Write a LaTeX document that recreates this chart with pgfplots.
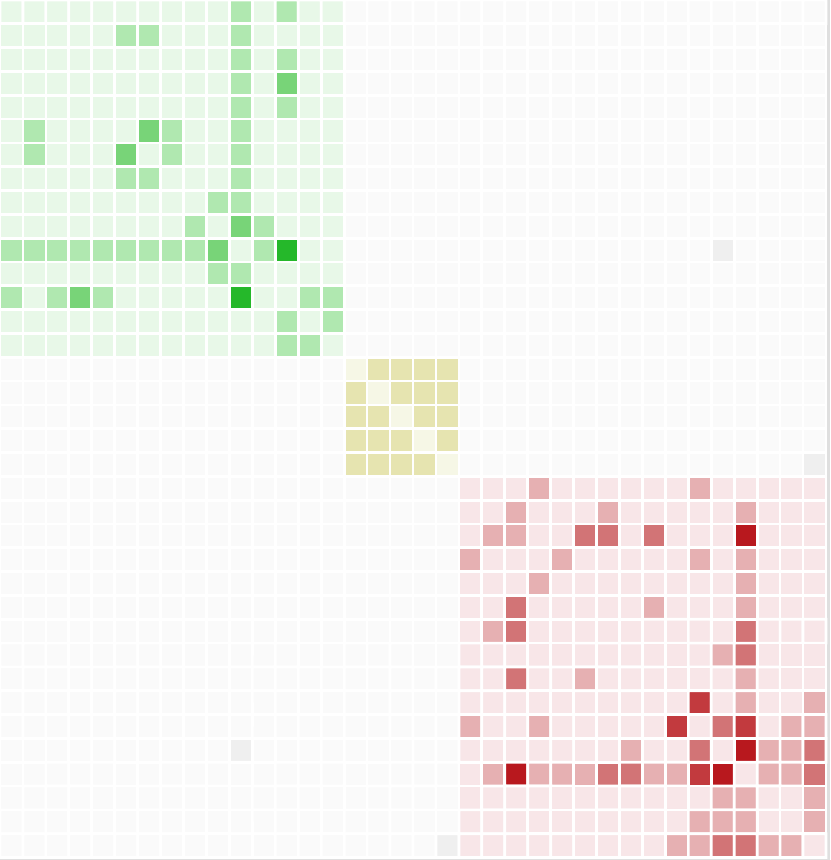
\documentclass[border=0pt]{standalone}
\usepackage{pgfplots}
\pgfplotsset{compat=1.18}

% colour index: 0 background, 1 grey, 2-5 green levels, 6-7 yellow, 8-12 red levels
\pgfplotsset{
  colormap={cells}{
    rgb255=(250,250,250) rgb255=(239,239,239)
    rgb255=(232,248,232) rgb255=(176,232,176) rgb255=(120,212,120) rgb255=(37,184,42)
    rgb255=(246,247,230) rgb255=(230,228,176)
    rgb255=(248,230,232) rgb255=(230,176,178) rgb255=(210,116,118) rgb255=(194,58,62) rgb255=(184,24,30)
  }
}

\begin{document}
\begin{tikzpicture}
\begin{axis}[
    width=8.3cm, height=8.6cm,
    scale only axis,
    hide axis,
    enlargelimits=false,
    xmin=-0.5, xmax=35.674,
    ymin=-0.5, ymax=35.605,
    y dir=reverse,
    colormap name=cells,
    colormap access=direct,
    axis background/.style={fill=white},
]
\coordinate (SW) at (rel axis cs:0,0);
\coordinate (NE) at (rel axis cs:1,1);
\fill[gray!25] (axis cs:35.52,-0.5) rectangle (axis cs:35.674,35.605);
\fill[gray!25] (axis cs:-0.5,35.52) rectangle (axis cs:35.674,35.605);

\addplot[matrix plot, mesh/cols=36, point meta=explicit,
    draw=white, line width=0.77pt]
  table[row sep=\\, header=false,
        x expr={\coordindex-36*floor((\coordindex+0.5)/36)},
        y expr={floor((\coordindex+0.5)/36)},
        meta index=0] {
2\\2\\2\\2\\2\\2\\2\\2\\2\\2\\3\\2\\3\\2\\2\\0\\0\\0\\0\\0\\0\\0\\0\\0\\0\\0\\0\\0\\0\\0\\0\\0\\0\\0\\0\\0\\
2\\2\\2\\2\\2\\3\\3\\2\\2\\2\\3\\2\\2\\2\\2\\0\\0\\0\\0\\0\\0\\0\\0\\0\\0\\0\\0\\0\\0\\0\\0\\0\\0\\0\\0\\0\\
2\\2\\2\\2\\2\\2\\2\\2\\2\\2\\3\\2\\3\\2\\2\\0\\0\\0\\0\\0\\0\\0\\0\\0\\0\\0\\0\\0\\0\\0\\0\\0\\0\\0\\0\\0\\
2\\2\\2\\2\\2\\2\\2\\2\\2\\2\\3\\2\\4\\2\\2\\0\\0\\0\\0\\0\\0\\0\\0\\0\\0\\0\\0\\0\\0\\0\\0\\0\\0\\0\\0\\0\\
2\\2\\2\\2\\2\\2\\2\\2\\2\\2\\3\\2\\3\\2\\2\\0\\0\\0\\0\\0\\0\\0\\0\\0\\0\\0\\0\\0\\0\\0\\0\\0\\0\\0\\0\\0\\
2\\3\\2\\2\\2\\2\\4\\3\\2\\2\\3\\2\\2\\2\\2\\0\\0\\0\\0\\0\\0\\0\\0\\0\\0\\0\\0\\0\\0\\0\\0\\0\\0\\0\\0\\0\\
2\\3\\2\\2\\2\\4\\2\\3\\2\\2\\3\\2\\2\\2\\2\\0\\0\\0\\0\\0\\0\\0\\0\\0\\0\\0\\0\\0\\0\\0\\0\\0\\0\\0\\0\\0\\
2\\2\\2\\2\\2\\3\\3\\2\\2\\2\\3\\2\\2\\2\\2\\0\\0\\0\\0\\0\\0\\0\\0\\0\\0\\0\\0\\0\\0\\0\\0\\0\\0\\0\\0\\0\\
2\\2\\2\\2\\2\\2\\2\\2\\2\\3\\3\\2\\2\\2\\2\\0\\0\\0\\0\\0\\0\\0\\0\\0\\0\\0\\0\\0\\0\\0\\0\\0\\0\\0\\0\\0\\
2\\2\\2\\2\\2\\2\\2\\2\\3\\2\\4\\3\\2\\2\\2\\0\\0\\0\\0\\0\\0\\0\\0\\0\\0\\0\\0\\0\\0\\0\\0\\0\\0\\0\\0\\0\\
3\\3\\3\\3\\3\\3\\3\\3\\3\\4\\2\\3\\5\\2\\2\\0\\0\\0\\0\\0\\0\\0\\0\\0\\0\\0\\0\\0\\0\\0\\0\\1\\0\\0\\0\\0\\
2\\2\\2\\2\\2\\2\\2\\2\\2\\3\\3\\2\\2\\2\\2\\0\\0\\0\\0\\0\\0\\0\\0\\0\\0\\0\\0\\0\\0\\0\\0\\0\\0\\0\\0\\0\\
3\\2\\3\\4\\3\\2\\2\\2\\2\\2\\5\\2\\2\\3\\3\\0\\0\\0\\0\\0\\0\\0\\0\\0\\0\\0\\0\\0\\0\\0\\0\\0\\0\\0\\0\\0\\
2\\2\\2\\2\\2\\2\\2\\2\\2\\2\\2\\2\\3\\2\\3\\0\\0\\0\\0\\0\\0\\0\\0\\0\\0\\0\\0\\0\\0\\0\\0\\0\\0\\0\\0\\0\\
2\\2\\2\\2\\2\\2\\2\\2\\2\\2\\2\\2\\3\\3\\2\\0\\0\\0\\0\\0\\0\\0\\0\\0\\0\\0\\0\\0\\0\\0\\0\\0\\0\\0\\0\\0\\
0\\0\\0\\0\\0\\0\\0\\0\\0\\0\\0\\0\\0\\0\\0\\6\\7\\7\\7\\7\\0\\0\\0\\0\\0\\0\\0\\0\\0\\0\\0\\0\\0\\0\\0\\0\\
0\\0\\0\\0\\0\\0\\0\\0\\0\\0\\0\\0\\0\\0\\0\\7\\6\\7\\7\\7\\0\\0\\0\\0\\0\\0\\0\\0\\0\\0\\0\\0\\0\\0\\0\\0\\
0\\0\\0\\0\\0\\0\\0\\0\\0\\0\\0\\0\\0\\0\\0\\7\\7\\6\\7\\7\\0\\0\\0\\0\\0\\0\\0\\0\\0\\0\\0\\0\\0\\0\\0\\0\\
0\\0\\0\\0\\0\\0\\0\\0\\0\\0\\0\\0\\0\\0\\0\\7\\7\\7\\6\\7\\0\\0\\0\\0\\0\\0\\0\\0\\0\\0\\0\\0\\0\\0\\0\\0\\
0\\0\\0\\0\\0\\0\\0\\0\\0\\0\\0\\0\\0\\0\\0\\7\\7\\7\\7\\6\\0\\0\\0\\0\\0\\0\\0\\0\\0\\0\\0\\0\\0\\0\\0\\1\\
0\\0\\0\\0\\0\\0\\0\\0\\0\\0\\0\\0\\0\\0\\0\\0\\0\\0\\0\\0\\8\\8\\8\\9\\8\\8\\8\\8\\8\\8\\9\\8\\8\\8\\8\\8\\
0\\0\\0\\0\\0\\0\\0\\0\\0\\0\\0\\0\\0\\0\\0\\0\\0\\0\\0\\0\\8\\8\\9\\8\\8\\8\\9\\8\\8\\8\\8\\8\\9\\8\\8\\8\\
0\\0\\0\\0\\0\\0\\0\\0\\0\\0\\0\\0\\0\\0\\0\\0\\0\\0\\0\\0\\8\\9\\9\\8\\8\\10\\10\\8\\10\\8\\8\\8\\12\\8\\8\\8\\
0\\0\\0\\0\\0\\0\\0\\0\\0\\0\\0\\0\\0\\0\\0\\0\\0\\0\\0\\0\\9\\8\\8\\8\\9\\8\\8\\8\\8\\8\\9\\8\\9\\8\\8\\8\\
0\\0\\0\\0\\0\\0\\0\\0\\0\\0\\0\\0\\0\\0\\0\\0\\0\\0\\0\\0\\8\\8\\8\\9\\8\\8\\8\\8\\8\\8\\8\\8\\9\\8\\8\\8\\
0\\0\\0\\0\\0\\0\\0\\0\\0\\0\\0\\0\\0\\0\\0\\0\\0\\0\\0\\0\\8\\8\\10\\8\\8\\8\\8\\8\\9\\8\\8\\8\\9\\8\\8\\8\\
0\\0\\0\\0\\0\\0\\0\\0\\0\\0\\0\\0\\0\\0\\0\\0\\0\\0\\0\\0\\8\\9\\10\\8\\8\\8\\8\\8\\8\\8\\8\\8\\10\\8\\8\\8\\
0\\0\\0\\0\\0\\0\\0\\0\\0\\0\\0\\0\\0\\0\\0\\0\\0\\0\\0\\0\\8\\8\\8\\8\\8\\8\\8\\8\\8\\8\\8\\9\\10\\8\\8\\8\\
0\\0\\0\\0\\0\\0\\0\\0\\0\\0\\0\\0\\0\\0\\0\\0\\0\\0\\0\\0\\8\\8\\10\\8\\8\\9\\8\\8\\8\\8\\8\\8\\9\\8\\8\\8\\
0\\0\\0\\0\\0\\0\\0\\0\\0\\0\\0\\0\\0\\0\\0\\0\\0\\0\\0\\0\\8\\8\\8\\8\\8\\8\\8\\8\\8\\8\\11\\8\\9\\8\\8\\9\\
0\\0\\0\\0\\0\\0\\0\\0\\0\\0\\0\\0\\0\\0\\0\\0\\0\\0\\0\\0\\9\\8\\8\\9\\8\\8\\8\\8\\8\\11\\8\\10\\11\\8\\9\\9\\
0\\0\\0\\0\\0\\0\\0\\0\\0\\0\\1\\0\\0\\0\\0\\0\\0\\0\\0\\0\\8\\8\\8\\8\\8\\8\\8\\9\\8\\8\\10\\8\\12\\9\\9\\10\\
0\\0\\0\\0\\0\\0\\0\\0\\0\\0\\0\\0\\0\\0\\0\\0\\0\\0\\0\\0\\8\\9\\12\\9\\9\\9\\10\\10\\9\\9\\11\\12\\8\\9\\9\\10\\
0\\0\\0\\0\\0\\0\\0\\0\\0\\0\\0\\0\\0\\0\\0\\0\\0\\0\\0\\0\\8\\8\\8\\8\\8\\8\\8\\8\\8\\8\\8\\9\\9\\8\\8\\9\\
0\\0\\0\\0\\0\\0\\0\\0\\0\\0\\0\\0\\0\\0\\0\\0\\0\\0\\0\\0\\8\\8\\8\\8\\8\\8\\8\\8\\8\\8\\9\\9\\9\\8\\8\\9\\
0\\0\\0\\0\\0\\0\\0\\0\\0\\0\\0\\0\\0\\0\\0\\0\\0\\0\\0\\1\\8\\8\\8\\8\\8\\8\\8\\8\\8\\9\\9\\10\\10\\9\\9\\8\\
};
\end{axis}
\pgfresetboundingbox
\useasboundingbox (SW) rectangle (NE);
\end{tikzpicture}
\end{document}
